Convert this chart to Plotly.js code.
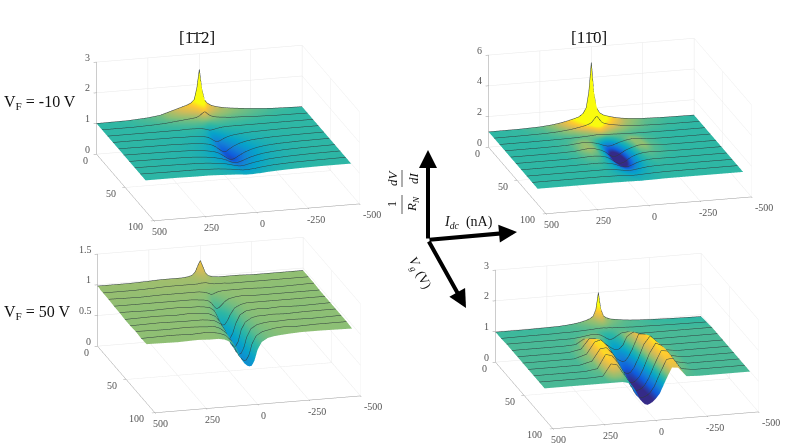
<!DOCTYPE html>
<html>
<head>
<meta charset="utf-8">
<script src="https://cdn.plot.ly/plotly-3.0.1.min.js"></script>
<style>body{margin:0;background:#fff}</style>
</head>
<body>
<div id="chart" style="width:790px;height:445px"></div>
<script>
// bias current columns (nA), gate voltage rows (V)
const idc = [500,350,250,190,150,120,90,60,40,25,12,0,-12,-25,-40,-60,-90,-120,-150,-190,-250,-350,-500];
const vg = [0,2.5,5,9.5,14,19,28.5,38,47.5,57,66.5,76,85.5];

// axis ticks
const idcTicks = [500,250,0,-250,-500];
const vgTicks = [0,50,100];
const zTicks3 = [0,1,2,3];
const zTicks6 = [0,2,4,6];
const zTicks15 = [0,0.5,1,1.5];

// VF = -10 V, [-1-12]
const z112m10 = [
[1.00,1.01,1.05,1.10,1.18,1.24,1.30,1.36,1.42,1.52,1.90,2.50,1.85,1.48,1.36,1.28,1.22,1.18,1.15,1.12,1.08,1.03,1.00],
[1.00,1.01,1.05,1.09,1.16,1.21,1.27,1.32,1.38,1.46,1.72,2.10,1.68,1.42,1.32,1.25,1.19,1.16,1.13,1.10,1.07,1.03,1.00],
[1.00,1.01,1.04,1.08,1.14,1.18,1.23,1.27,1.32,1.38,1.52,1.68,1.50,1.35,1.28,1.22,1.17,1.14,1.11,1.09,1.06,1.02,1.00],
[1.00,1.00,1.02,1.04,1.07,1.09,1.11,1.13,1.15,1.20,1.27,1.32,1.25,1.18,1.14,1.11,1.09,1.07,1.06,1.05,1.03,1.01,1.00],
[1.00,1.00,1.01,1.02,1.03,1.04,1.05,1.06,1.06,1.07,1.06,1.04,1.03,1.04,1.05,1.05,1.04,1.03,1.03,1.02,1.01,1.00,1.00],
[1.00,1.00,1.00,1.00,1.00,1.01,1.01,1.00,0.99,0.97,0.94,0.92,0.93,0.95,0.97,0.99,1.00,1.00,1.00,1.00,1.00,1.00,1.00],
[1.00,1.00,0.99,0.99,0.98,0.98,0.97,0.95,0.92,0.87,0.81,0.76,0.75,0.79,0.84,0.89,0.93,0.95,0.97,0.98,0.99,1.00,1.00],
[1.00,0.99,0.99,0.98,0.97,0.96,0.94,0.91,0.86,0.80,0.73,0.67,0.62,0.63,0.70,0.78,0.86,0.91,0.94,0.96,0.98,0.99,1.00],
[1.00,0.99,0.98,0.97,0.96,0.94,0.91,0.87,0.82,0.76,0.70,0.64,0.59,0.57,0.60,0.68,0.78,0.85,0.90,0.94,0.97,0.99,1.00],
[1.00,0.99,0.98,0.97,0.95,0.93,0.90,0.86,0.82,0.78,0.73,0.70,0.68,0.68,0.70,0.75,0.82,0.87,0.91,0.94,0.97,0.99,1.00],
[1.00,0.99,0.98,0.97,0.96,0.94,0.92,0.89,0.86,0.83,0.81,0.79,0.78,0.78,0.80,0.83,0.87,0.90,0.93,0.95,0.97,0.99,1.00],
[1.00,0.99,0.99,0.98,0.97,0.96,0.94,0.92,0.90,0.89,0.87,0.86,0.86,0.86,0.87,0.88,0.91,0.93,0.95,0.96,0.98,0.99,1.00],
[1.00,1.00,0.99,0.99,0.98,0.97,0.96,0.95,0.94,0.93,0.92,0.92,0.92,0.92,0.93,0.93,0.95,0.96,0.97,0.98,0.99,1.00,1.00]
];

// VF = -10 V, [1-10]
const z110m10 = [
[1.00,1.01,1.05,1.12,1.20,1.28,1.38,1.50,1.70,2.05,3.10,5.00,3.00,2.00,1.65,1.48,1.35,1.25,1.18,1.12,1.06,1.02,1.00],
[1.00,1.01,1.05,1.11,1.19,1.26,1.35,1.46,1.62,1.90,2.60,3.60,2.55,1.85,1.58,1.44,1.32,1.23,1.16,1.11,1.06,1.02,1.00],
[1.00,1.01,1.04,1.10,1.17,1.24,1.32,1.42,1.54,1.72,2.10,2.60,2.05,1.68,1.50,1.40,1.29,1.21,1.15,1.10,1.05,1.02,1.00],
[1.00,1.01,1.03,1.07,1.12,1.17,1.24,1.32,1.40,1.50,1.72,1.90,1.68,1.46,1.36,1.29,1.22,1.16,1.11,1.08,1.04,1.01,1.00],
[1.00,1.00,1.02,1.05,1.08,1.10,1.14,1.18,1.22,1.27,1.33,1.36,1.32,1.26,1.21,1.17,1.13,1.10,1.07,1.05,1.03,1.01,1.00],
[1.00,1.00,1.01,1.02,1.03,1.04,1.06,1.08,1.10,1.12,1.13,1.12,1.10,1.09,1.08,1.07,1.05,1.04,1.03,1.02,1.01,1.00,1.00],
[1.00,1.00,1.01,1.03,1.08,1.12,1.10,1.02,0.94,0.86,0.80,0.76,0.76,0.80,0.87,0.96,1.06,1.12,1.10,1.04,1.01,1.00,1.00],
[1.00,1.00,1.01,1.03,1.10,1.14,1.10,0.98,0.85,0.68,0.56,0.50,0.50,0.56,0.68,0.84,0.98,1.10,1.12,1.05,1.01,1.00,1.00],
[1.00,1.00,1.00,1.02,1.05,1.06,1.03,0.94,0.80,0.64,0.52,0.47,0.46,0.50,0.62,0.80,0.95,1.03,1.05,1.03,1.01,1.00,1.00],
[1.00,1.00,1.00,1.01,1.02,1.02,0.99,0.92,0.84,0.75,0.68,0.64,0.63,0.66,0.73,0.84,0.95,1.00,1.02,1.01,1.00,1.00,1.00],
[1.00,1.00,1.00,1.00,1.00,1.00,0.97,0.93,0.89,0.86,0.84,0.83,0.83,0.85,0.88,0.92,0.97,0.99,1.00,1.00,1.00,1.00,1.00],
[1.00,1.00,1.00,1.00,1.00,0.99,0.98,0.96,0.95,0.94,0.93,0.93,0.93,0.94,0.95,0.96,0.98,0.99,1.00,1.00,1.00,1.00,1.00],
[1.00,1.00,1.00,1.00,1.00,1.00,0.99,0.99,0.98,0.98,0.98,0.97,0.97,0.98,0.98,0.98,0.99,1.00,1.00,1.00,1.00,1.00,1.00]
];

// VF = 50 V, [-1-12]
const z112p50 = [
[0.98,0.98,0.99,1.00,1.00,1.00,1.00,1.01,1.03,1.08,1.18,1.26,1.16,1.05,1.00,0.98,0.97,0.97,0.97,0.97,0.96,0.96,0.96],
[0.98,0.98,0.99,1.00,1.00,1.00,1.00,1.01,1.02,1.05,1.11,1.16,1.10,1.03,1.00,0.98,0.97,0.97,0.97,0.97,0.96,0.96,0.96],
[0.97,0.98,0.99,0.99,1.00,1.00,1.00,1.00,1.01,1.03,1.05,1.07,1.05,1.02,0.99,0.98,0.97,0.97,0.97,0.96,0.96,0.96,0.96],
[0.97,0.97,0.98,0.99,0.99,0.99,0.99,0.99,0.99,1.00,1.00,1.00,0.99,0.98,0.97,0.97,0.97,0.96,0.96,0.96,0.96,0.96,0.96],
[0.97,0.97,0.98,0.98,0.98,0.98,0.98,0.98,0.98,0.98,0.97,0.97,0.96,0.96,0.96,0.96,0.96,0.96,0.96,0.96,0.96,0.95,0.96],
[0.97,0.96,0.97,0.97,0.97,0.97,0.97,0.97,0.96,0.95,0.93,0.91,0.92,0.94,0.95,0.96,0.96,0.96,0.96,0.96,0.95,0.95,0.96],
[0.96,0.96,0.96,0.96,0.96,0.96,0.95,0.94,0.92,0.88,0.82,0.78,0.80,0.84,0.89,0.93,0.95,0.96,0.96,0.95,0.95,0.95,0.95],
[0.96,0.95,0.96,0.96,0.95,0.95,0.94,0.92,0.87,0.78,0.68,0.62,0.62,0.68,0.78,0.88,0.93,0.95,0.95,0.95,0.95,0.95,0.95],
[0.95,0.96,0.95,0.96,0.95,0.94,0.93,0.88,0.80,0.68,0.57,0.50,0.50,0.58,0.74,0.87,0.93,0.94,0.95,0.94,0.95,0.94,0.95],
[0.95,0.96,0.95,0.95,0.95,0.94,0.92,0.86,0.76,0.62,0.53,0.47,0.47,0.55,0.74,0.86,0.92,0.94,0.94,0.95,0.94,0.95,0.95],
[0.96,0.95,0.96,0.95,0.94,0.94,0.90,0.82,0.70,0.58,0.50,0.45,0.46,0.54,0.72,0.85,0.91,0.93,0.94,0.94,0.95,0.94,0.95],
[0.95,0.96,0.95,0.96,0.95,0.93,0.89,0.79,0.64,0.54,0.49,0.45,0.46,0.54,0.72,0.84,0.90,0.92,0.94,0.95,0.94,0.95,0.95],
[0.96,0.95,0.96,0.95,0.95,0.93,0.88,0.76,0.60,0.52,0.48,0.46,0.47,0.55,0.72,0.84,0.90,0.92,0.93,0.94,0.95,0.95,0.94]
];

// VF = 50 V, [1-10]
const z110p50 = [
[0.98,0.98,0.99,1.00,1.02,1.04,1.07,1.12,1.17,1.24,1.45,2.00,1.45,1.22,1.15,1.10,1.07,1.04,1.02,1.00,0.98,0.96,0.94],
[0.98,0.98,0.99,1.00,1.02,1.03,1.06,1.10,1.15,1.20,1.34,1.60,1.34,1.18,1.13,1.09,1.06,1.03,1.02,1.00,0.98,0.96,0.95],
[0.98,0.98,0.99,1.00,1.01,1.02,1.04,1.07,1.11,1.15,1.23,1.30,1.22,1.14,1.10,1.07,1.04,1.02,1.01,1.00,0.98,0.97,0.96],
[0.98,0.99,0.99,1.00,1.00,1.01,1.02,1.03,1.04,1.05,1.05,1.05,1.04,1.04,1.03,1.02,1.02,1.01,1.00,1.00,0.99,0.98,0.97],
[0.99,0.99,1.00,1.00,1.00,1.01,1.03,1.03,1.01,0.98,0.96,0.95,0.95,0.97,1.00,1.03,1.03,1.01,1.00,1.00,0.99,0.98,0.98],
[1.00,1.00,1.00,1.00,1.02,1.05,1.08,1.08,1.04,0.98,0.92,0.88,0.88,0.92,0.98,1.06,1.08,1.04,1.00,1.00,1.00,1.00,1.00],
[1.00,1.00,1.00,1.02,1.18,1.16,1.10,1.02,0.94,0.86,0.80,0.76,0.74,0.78,0.88,1.15,1.28,1.15,1.04,1.00,1.00,1.00,1.00],
[1.00,1.00,1.00,1.08,1.40,1.38,1.25,1.05,0.88,0.74,0.65,0.60,0.56,0.58,0.70,0.95,1.42,1.40,1.12,1.02,1.00,1.00,1.00],
[1.00,1.00,1.00,1.12,1.50,1.55,1.35,1.05,0.78,0.58,0.46,0.40,0.38,0.42,0.55,0.82,1.30,1.55,1.35,1.06,1.00,1.00,1.00],
[1.00,1.00,1.00,1.10,1.48,1.50,1.30,0.95,0.65,0.45,0.33,0.30,0.30,0.36,0.46,0.72,1.20,1.52,1.42,1.08,1.00,1.00,1.00],
[1.00,1.00,1.00,1.06,1.50,1.45,1.20,0.85,0.55,0.37,0.28,0.25,0.26,0.30,0.40,0.62,1.08,1.48,1.45,1.08,1.00,1.00,1.00],
[1.00,1.00,1.00,1.02,1.40,1.35,1.05,0.75,0.45,0.30,0.24,0.22,0.24,0.28,0.36,0.55,1.00,1.40,1.42,1.06,1.00,1.00,1.00],
[1.00,1.00,1.00,1.00,1.00,1.00,0.95,0.72,0.45,0.30,0.22,0.19,0.22,0.27,0.36,0.52,0.95,1.34,1.32,1.02,1.00,1.00,1.00]
];

const parula = [[0,'#352a87'],[0.125,'#0f5cdd'],[0.25,'#1481d6'],[0.375,'#06a4ca'],[0.5,'#2eb7a4'],
    [0.625,'#87bf77'],[0.75,'#d1bb59'],[0.875,'#fec832'],[1,'#f9fb0e']];

const W = 790, H = 445;
const boxScale = 2.24;

function surf(z, scene, cmin, cmax) {
    return {
        type: 'surface', x: idc, y: vg, z: z, scene: scene,
        colorscale: parula, cmin: cmin, cmax: cmax, showscale: false, hoverinfo: 'skip',
        lighting: {ambient: 1, diffuse: 0, specular: 0, roughness: 1, fresnel: 0},
        contours: {
            x: {highlight: false}, z: {highlight: false},
            y: {show: true, start: 0, end: 85.5, size: 9.5, color: '#2f3b3c', width: 1, highlight: false}
        }
    };
}

function axis(range, ticks) {
    return {
        range: range, tickvals: ticks, showticklabels: false, title: {text: ''},
        showgrid: true, gridcolor: '#e8e8e8', gridwidth: 1, zeroline: false,
        showline: true, linecolor: '#9a9a9a', linewidth: 1, showbackground: false,
        ticks: 'outside', ticklen: 3, tickcolor: '#9a9a9a',
        showspikes: false
    };
}

// tick labels as text anchored to the box edges, upright like the original
function tickLabel(x, y, z, text, dx, dy) {
    return {
        x: x, y: y, z: z, text: String(text), showarrow: false, xshift: dx, yshift: -dy,
        font: {family: 'Liberation Serif', size: 10, color: '#555'}
    };
}

function tickLabels(zmax, zticks) {
    let out = [];
    idcTicks.forEach(t => out.push(tickLabel(t, 100, 0, t, t === -500 ? 12 : (t === -250 ? 8 : 6), 11)));
    vgTicks.forEach(t => out.push(tickLabel(500, t, 0, t, -11 - t * 0.07, 6)));
    zticks.forEach(t => out.push(tickLabel(500, 0, t, t, t === 0.5 || t === 1.5 ? -12 : -9, -5)));
    return out;
}

function scene(cx, cy, zmax, zticks) {
    // domain is centred on the middle of the box, in pixels
    let w = 320, h = 190;
    return {
        domain: {x: [(cx - w / 2) / W, (cx + w / 2) / W], y: [1 - (cy + h / 2) / H, 1 - (cy - h / 2) / H]},
        xaxis: axis([-500, 500], idcTicks),
        yaxis: axis([0, 100], vgTicks),
        zaxis: axis([0, zmax], zticks),
        aspectmode: 'manual', aspectratio: {x: boxScale, y: boxScale * 1.05, z: 0.455 * boxScale},
        camera: {
            projection: {type: 'orthographic'},
            up: {x: 0, y: 0, z: 1}, center: {x: 0, y: 0, z: 0},
            eye: {x: 0.244 * 1.5, y: 0.919 * 1.5, z: 0.308 * 1.5}
        },
        annotations: tickLabels(zmax, zticks),
        dragmode: false
    };
}

function note(px, py, text, size, angle, xanchor) {
    return {
        xref: 'paper', yref: 'paper', x: px / W, y: 1 - py / H, text: text, showarrow: false,
        textangle: angle || 0, xanchor: xanchor || 'center', yanchor: 'middle',
        font: {family: 'Liberation Serif', size: size, color: '#111'}
    };
}

function arrow(x0, y0, x1, y1) {
    return {
        xref: 'paper', yref: 'paper', x: x1 / W, y: 1 - y1 / H, ax: x0 - x1, ay: y0 - y1, axref: 'pixel', ayref: 'pixel',
        text: '', showarrow: true, arrowhead: 2, arrowsize: 0.9, arrowwidth: 4, arrowcolor: '#000'
    };
}

function bar(x, y0, y1) {
    return {type: 'line', xref: 'paper', yref: 'paper', x0: x / W, x1: x / W, y0: 1 - y0 / H, y1: 1 - y1 / H,
        line: {color: '#333', width: 0.8}};
}

const data = [
    surf(z112m10, 'scene', 0.5, 1.5),
    surf(z110m10, 'scene2', 0.6, 1.4),
    surf(z112p50, 'scene3', 0, 1.5),
    surf(z110p50, 'scene4', 0.3, 1.6)
];

const layout = {
    width: W, height: H, margin: {l: 0, r: 0, t: 0, b: 0}, paper_bgcolor: '#fff', showlegend: false,
    scene: scene(228, 133, 3, zTicks3),
    scene2: scene(620, 126, 6, zTicks6),
    scene3: scene(229, 325, 1.5, zTicks15),
    scene4: scene(627, 341, 3, zTicks3),
    annotations: [
        note(197, 37, '[1\u03041\u03042]', 17),
        note(589, 37, '[11\u03040]', 17),
        note(2, 103, 'V<sub>F</sub> = -10 V', 16, 0, 'left'),
        note(2, 312, 'V<sub>F</sub> = 50 V', 16, 0, 'left'),
        note(468, 222, '<i>I<sub>dc</sub></i>  (nA)', 14),
        note(420, 273, '<i>V<sub>g</sub></i> (V)', 13, 62),
        note(392, 204, '1', 12, -90),
        note(413, 204, '<i>R<sub>N</sub></i>', 13, -90),
        note(392, 178, '<i>dV</i>', 13, -90),
        note(413, 178, '<i>dI</i>', 13, -90),
        arrow(428, 240, 428, 150),
        arrow(428, 240, 517, 232),
        arrow(428, 240, 466, 308)
    ],
    shapes: [bar(402, 195, 214), bar(402, 170, 187)]
};

Plotly.newPlot('chart', data, layout, {displayModeBar: false});
</script>
</body>
</html>
